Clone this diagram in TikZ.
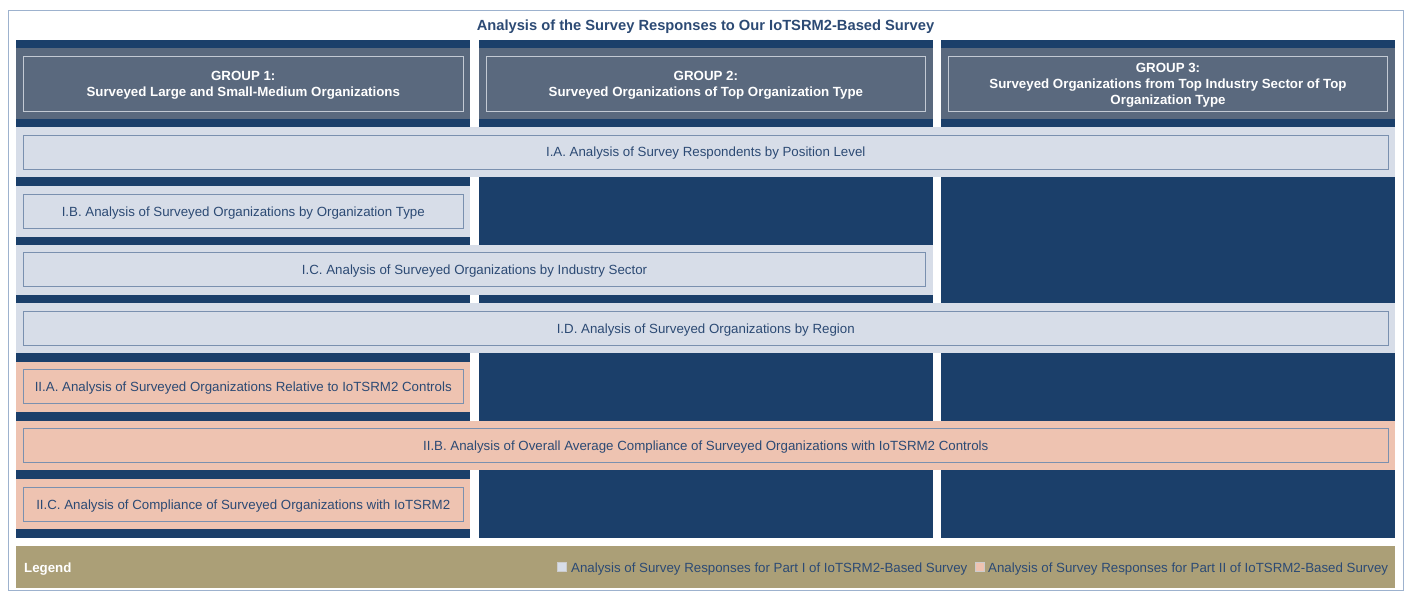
\documentclass[tikz,border=0pt]{standalone}
\usepackage{fontspec}
\setmainfont{Liberation Sans}
\definecolor{navy}{HTML}{1B3F6A}
\definecolor{hdr}{HTML}{5A697E}
\definecolor{hdrline}{HTML}{C3CAD4}
\definecolor{lite}{HTML}{D7DDE8}
\definecolor{salm}{HTML}{EEC3B1}
\definecolor{khaki}{HTML}{AB9F77}
\definecolor{txt}{HTML}{2C4A74}
\definecolor{bdr}{HTML}{7A90AF}
\definecolor{framec}{HTML}{9DB2CE}
\tikzset{
  hdrbox/.style={draw=hdrline, fill=hdr, text=white, line width=1pt, align=center,
    font=\bfseries\fontsize{13.3}{16}\selectfont, minimum height=55pt, inner sep=0pt, text depth=-2pt},
  ibox/.style={draw=bdr, text=txt, line width=1pt, align=center,
    font=\fontsize{13.3}{16}\selectfont, minimum height=34pt, inner sep=0pt, text depth=-0.5pt},
  pbox/.style={ibox, fill=lite},
  sbox/.style={ibox, fill=salm},
  w1/.style={minimum width=439.5pt},
  w3/.style={minimum width=1364.5pt},
  w2/.style={minimum width=902.2pt},
  legsq/.style={draw=white!80!black, line width=0.4pt, minimum width=9pt, minimum height=9.5pt, inner sep=0pt},
  legtxt/.style={anchor=west, text=txt, font=\fontsize{13.3}{16}\selectfont, inner sep=0pt},
}
\begin{document}
\begin{tikzpicture}[x=1pt,y=-1pt]
\useasboundingbox (0,0) rectangle (1409,592);
\draw[framec, line width=1pt] (8,10) rectangle (1403,590.5);
\node[text=txt, font=\bfseries\fontsize{14.7}{17}\selectfont] (title) at (705.5,26.5) {Analysis of the Survey Responses to Our IoTSRM2-Based Survey};
% headers
\foreach \a/\b in {16/470,479/933,941/1395}{
  \fill[navy] (\a,40) rectangle (\b,127);
  \fill[hdr] (\a,48) rectangle (\b,119);
}
% row I.A
\fill[lite] (16,127) rectangle (1395,177);
% row I.B
\fill[navy] (16,177) rectangle (470,244.7);
\fill[lite] (16,186) rectangle (470,236.7);
\fill[navy] (479,177) rectangle (933,244.7);
\fill[navy] (941,177) rectangle (1395,303.3);
% row I.C
\fill[lite] (16,244.7) rectangle (933,295.3);
\fill[navy] (16,295.3) rectangle (470,303.3);
\fill[navy] (479,295.3) rectangle (933,303.3);
% row I.D
\fill[lite] (16,303.3) rectangle (1395,353.3);
% row II.A
\fill[navy] (16,353.3) rectangle (470,420.7);
\fill[salm] (16,361.7) rectangle (470,412);
\fill[navy] (479,353.3) rectangle (933,420.7);
\fill[navy] (941,353.3) rectangle (1395,420.7);
% row II.B
\fill[salm] (16,420.7) rectangle (1395,470.3);
% row II.C
\fill[navy] (16,470.3) rectangle (470,537.7);
\fill[salm] (16,479) rectangle (470,529.3);
\fill[navy] (479,470.3) rectangle (933,537.7);
\fill[navy] (941,470.3) rectangle (1395,537.7);
% legend bar
\fill[khaki] (16,546) rectangle (1395,588.3);

\node[hdrbox, w1] (g1) at (243.25,83.5) {GROUP 1:\\Surveyed Large and Small-Medium Organizations};
\node[hdrbox, minimum width=439.7pt] (g2) at (705.85,83.5) {GROUP 2:\\Surveyed Organizations of Top Organization Type};
\node[hdrbox, minimum width=439.4pt] (g3) at (1168,83.5) {GROUP 3:\\Surveyed Organizations from Top Industry Sector of Top\\Organization Type};

\node[pbox, w3] (ia) at (705.75,152) {I.A. Analysis of Survey Respondents by Position Level};
\node[pbox, w1] (ib) at (243.25,211.2) {I.B. Analysis of Surveyed Organizations by Organization Type};
\node[pbox, w2] (ic) at (474.6,269.85) {I.C. Analysis of Surveyed Organizations by Industry Sector};
\node[pbox, w3] (id) at (705.75,328.35) {I.D. Analysis of Surveyed Organizations by Region};
\node[sbox, w1] (iia) at (243.25,386.65) {II.A. Analysis of Surveyed Organizations Relative to IoTSRM2 Controls};
\node[sbox, w3] (iib) at (705.75,445.5) {II.B. Analysis of Overall Average Compliance of Surveyed Organizations with IoTSRM2 Controls};
\node[sbox, w1] (iic) at (243.25,504.5) {II.C. Analysis of Compliance of Surveyed Organizations with IoTSRM2};

\node[anchor=west, text=white, font=\bfseries\fontsize{13.3}{16}\selectfont, inner sep=0pt] (leg) at (24,568.8) {Legend};
\node[legsq, fill=lite] (sq1) at (562,566.7) {};
\node[legtxt] (lt1) at (571,568.8) {Analysis of Survey Responses for Part I of IoTSRM2-Based Survey};
\node[legsq, fill=salm] (sq2) at (979.5,566.7) {};
\node[legtxt] (lt2) at (988,568.8) {Analysis of Survey Responses for Part II of IoTSRM2-Based Survey};
\end{tikzpicture}
\end{document}
